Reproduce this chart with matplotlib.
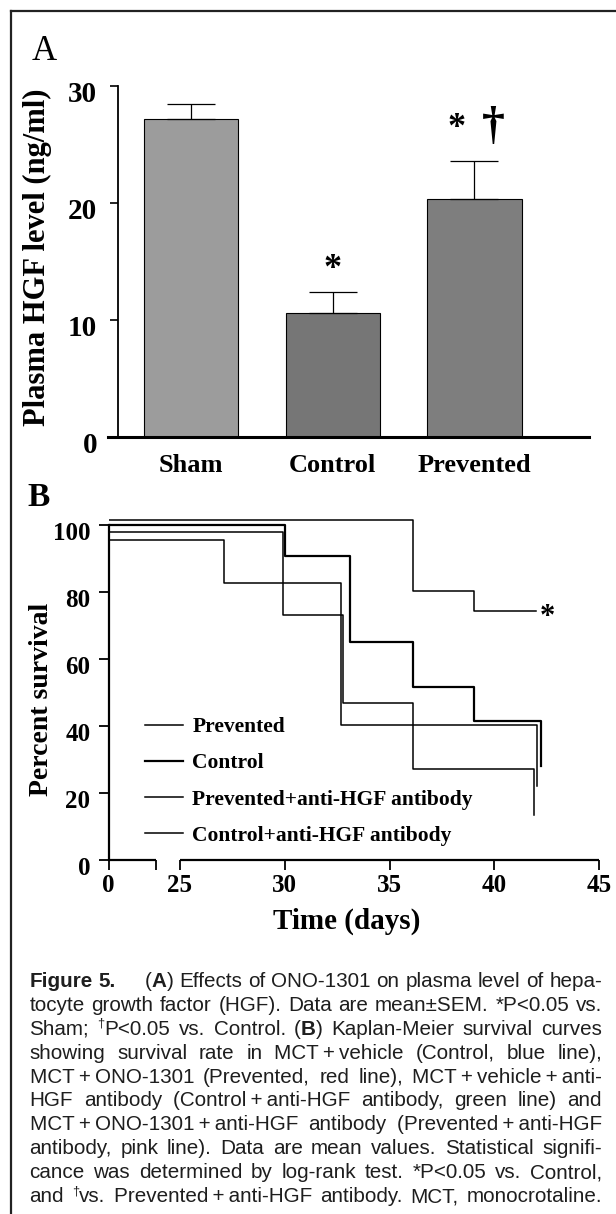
import re
import numpy as np
import matplotlib
matplotlib.use('Agg')
import matplotlib.pyplot as plt
from matplotlib.font_manager import FontProperties, findfont
from matplotlib.lines import Line2D
from matplotlib.transforms import ScaledTranslation

# ---- panel A: plasma HGF (mean, SEM) ----
groups = ['Sham', 'Control', 'Prevented']
hgf_mean = [27.2, 10.6, 20.3]
hgf_sem = [1.3, 1.8, 3.3]

# ---- panel B: Kaplan-Meier steps (day, % survival) ----
prev_t = [0, 36.1, 39.05, 42.0]
prev_s = [101.7, 80.3, 74.5, 74.5]
ctrl_t = [0, 30.0, 33.1, 36.1, 39.05, 42.25]
ctrl_s = [100.2, 90.7, 65.0, 51.6, 41.5, 28.2]
prevab_t = [0, 27.1, 32.7, 42.05]
prevab_s = [95.7, 82.8, 40.2, 22.0]
ctrlab_t = [0, 29.9, 32.8, 36.1, 41.9]
ctrlab_s = [98.0, 73.1, 47.0, 27.2, 13.5]

xticks_b = [0, 25, 30, 35, 40, 45]

caption = [
    "**Figure** **5.**     (**A**) Effects of ONO-1301 on plasma level of hepa-",
    "tocyte growth factor (HGF). Data are mean\u00b1SEM. *P<0.05 vs.",
    "Sham; ^\u2020P<0.05 vs. Control. (**B**) Kaplan-Meier survival curves",
    "showing survival rate in MCT+vehicle (Control, blue line),",
    "MCT+ONO-1301 (Prevented, red line), MCT+vehicle+anti-",
    "HGF antibody (Control+anti-HGF antibody, green line) and",
    "MCT+ONO-1301+anti-HGF antibody (Prevented+anti-HGF",
    "antibody, pink line). Data are mean values. Statistical signifi-",
    "cance was determined by log-rank test. *P<0.05 vs. Control,",
    "and ^\u2020vs. Prevented+anti-HGF antibody. MCT, monocrotaline.",
]

plt.rcParams['font.family'] = ['Liberation Serif', 'DejaVu Serif']
plt.rcParams['font.weight'] = 'bold'

W, H = 616, 1214
fig = plt.figure(figsize=(W / 100, H / 100), dpi=100)
fig.patch.set_facecolor('white')


def fx(x):
    return x / W


def fy(y):
    return 1 - y / H


def shift_labels(labels, dy_px):
    off = ScaledTranslation(0, -dy_px / 100, fig.dpi_scale_trans)
    for lb in labels:
        lb.set_transform(lb.get_transform() + off)


# frame around the figure
fig.add_artist(Line2D([fx(11), fx(11)], [0, fy(11)], color='#222222', lw=1.6))
fig.add_artist(Line2D([fx(11), 1], [fy(11), fy(11)], color='#222222', lw=1.6))

# ================= panel A =================
axA = fig.add_axes([fx(108), fy(437), 481 / W, 351 / H])
xa = np.arange(len(groups))
axA.bar(xa, hgf_mean, width=0.667, color=['#9c9c9c', '#767676', '#7e7e7e'],
        edgecolor='black', linewidth=0.8, zorder=2)
axA.errorbar(xa, hgf_mean, yerr=[np.zeros(len(xa)), hgf_sem], fmt='none',
             ecolor='black', elinewidth=0.9, capsize=17, capthick=0.9, zorder=3)
axA.set_xlim(-0.586, 2.808)
axA.set_ylim(0, 30)
for s in ['top', 'right']:
    axA.spines[s].set_visible(False)
axA.spines['left'].set_position(('data', -0.515))
axA.spines['left'].set_linewidth(1.3)
axA.spines['bottom'].set_linewidth(2.2)
axA.set_yticks([0, 10, 20, 30])
axA.tick_params(axis='y', direction='out', length=6, width=1.2, pad=9, labelsize=21)
axA.set_xticks(xa, groups)
axA.tick_params(axis='x', length=0, pad=12, labelsize=19)
shift_labels(axA.get_yticklabels(), 6)

top_a = np.array(hgf_mean) + np.array(hgf_sem)
axA.text(xa[1], top_a[1] + 1.9, '*', ha='center', va='center', fontsize=26)
axA.text(xa[2] - 0.127, top_a[2] + 2.8, '*', ha='center', va='center', fontsize=26)
axA.text(xa[2] + 0.13, top_a[2] + 2.9, '\u2020', ha='center', va='center', fontsize=33)

fig.text(fx(37), fy(257), 'Plasma HGF level (ng/ml)', rotation=90,
         ha='center', va='center', fontsize=22)
fig.text(fx(32), fy(52), 'A', ha='left', va='center', fontsize=25, fontweight='normal')

# ================= panel B =================
axB = fig.add_axes([fx(108.5), fy(860), 490.5 / W, 345 / H])
c = 71.5 / 20.95 / 25  # 0-25 day stretch is squeezed by the axis break


def fwd(t):
    t = np.asarray(t, float)
    return np.where(t < 25, t * c, 25 * c + t - 25)


def inv(u):
    u = np.asarray(u, float)
    return np.where(u < 25 * c, u / c, u - 25 * c + 25)


axB.set_xscale('function', functions=(fwd, inv))
axB.plot(prev_t, prev_s, drawstyle='steps-post', color='black', lw=1.1, label='Prevented')
axB.plot(ctrl_t, ctrl_s, drawstyle='steps-post', color='black', lw=1.6, label='Control')
axB.plot(prevab_t, prevab_s, drawstyle='steps-post', color='black', lw=1.1,
         label='Prevented+anti-HGF antibody')
axB.plot(ctrlab_t, ctrlab_s, drawstyle='steps-post', color='black', lw=1.1,
         label='Control+anti-HGF antibody')
axB.set_xlim(0, 45)
axB.set_ylim(0, 103.1)

for s in ['top', 'right', 'bottom']:
    axB.spines[s].set_visible(False)
axB.spines['left'].set_bounds(0, 100)
axB.spines['left'].set_linewidth(1.6)
# broken x axis
for seg in ([0, 16.6], [25, 45]):
    axB.plot(seg, [0, 0], color='black', lw=1.6, clip_on=False, solid_capstyle='butt')
axB.set_xticks([0, 16.6] + xticks_b[1:], ['0', ''] + [str(v) for v in xticks_b[1:]])
axB.tick_params(axis='x', direction='out', length=7, width=1.3, pad=3, labelsize=18)
axB.set_yticks([0, 20, 40, 60, 80, 100])
axB.tick_params(axis='y', direction='out', length=7, width=1.3, pad=6, labelsize=18)
shift_labels(axB.get_yticklabels(), 6)

axB.annotate('*', xy=(prev_t[-1], prev_s[-1]), xytext=(8, -5), textcoords='offset points',
             ha='center', va='center', fontsize=22)

axB.legend(loc='upper left', bbox_to_anchor=(fx(145), fy(717)), bbox_transform=fig.transFigure,
           frameon=False, prop={'weight': 'bold', 'size': 15.5}, handlelength=1.75,
           handletextpad=0.45, labelspacing=0.75, borderpad=0, borderaxespad=0)

fig.text(fx(42), fy(699), 'Percent survival', rotation=90, ha='center', va='center', fontsize=20)
fig.text(fx(347), fy(921), 'Time (days)', ha='center', va='center', fontsize=21)
fig.text(fx(27), fy(497), 'B', ha='left', va='center', fontsize=24)

# ================= caption (justified) =================
renderer = fig.canvas.get_renderer()
try:
    findfont('Liberation Sans Narrow', fallback_to_default=False)
    cap_font = ['Liberation Sans Narrow', 'DejaVu Sans']
except ValueError:
    cap_font = ['Liberation Sans', 'DejaVu Sans']
cap_left, cap_right = 29.5, 602.0
cap_base0, cap_step = 987.0, 23.9


def runs_of(word):
    out = []
    for part in re.split(r'(\*\*.+?\*\*|\^\u2020)', word):
        if not part:
            continue
        if part.startswith('**') and part.endswith('**') and len(part) > 4:
            out.append((part[2:-2], True, False))
        elif part == '^\u2020':
            out.append(('\u2020', False, True))
        else:
            out.append((part.replace('+', '\u2009+\u2009'), False, False))
    return out


def run_width(txt, bold, sup, size):
    fp = FontProperties(family=cap_font, size=size * (0.62 if sup else 1),
                        weight='bold' if bold else 'normal')
    w, h, d = renderer.get_text_width_height_descent(txt, fp, ismath=False)
    return w


def split_line(line):
    words, weights = [], []
    extra = 0
    for tok in line.split(' '):
        if tok == '':
            extra += 1
            continue
        if words:
            weights.append(1 + extra)
        extra = 0
        words.append(runs_of(tok))
    return words, weights


parsed = [split_line(l) for l in caption]


def natural(size):
    sp = run_width('a a', False, False, size) - run_width('aa', False, False, size)
    best = 0
    for words, weights in parsed:
        tot = sum(run_width(t, b, s, size) for w in words for t, b, s in w)
        best = max(best, tot + sp * len(weights))
    return best


cap_size = 15.0
avail = cap_right - cap_left
nat = natural(cap_size)
if nat > avail * 0.99:
    cap_size *= avail * 0.99 / nat

for i, (words, weights) in enumerate(parsed):
    base = cap_base0 + i * cap_step
    widths = [sum(run_width(t, b, s, cap_size) for t, b, s in w) for w in words]
    gap = (avail - sum(widths)) / max(sum(weights), 1)
    x = cap_left
    for j, w in enumerate(words):
        xr = x
        for t, b, s in w:
            yy = base - (cap_size * 0.38 * 100 / 72 if s else 0)
            fig.text(fx(xr), fy(yy), t, ha='left', va='baseline', family=cap_font,
                     fontsize=cap_size * (0.62 if s else 1),
                     fontweight='bold' if b else 'normal', color='#1e1e1e')
            xr += run_width(t, b, s, cap_size)
        x += widths[j] + (gap * weights[j] if j < len(weights) else 0)

fig.savefig('out.png', dpi=100)
